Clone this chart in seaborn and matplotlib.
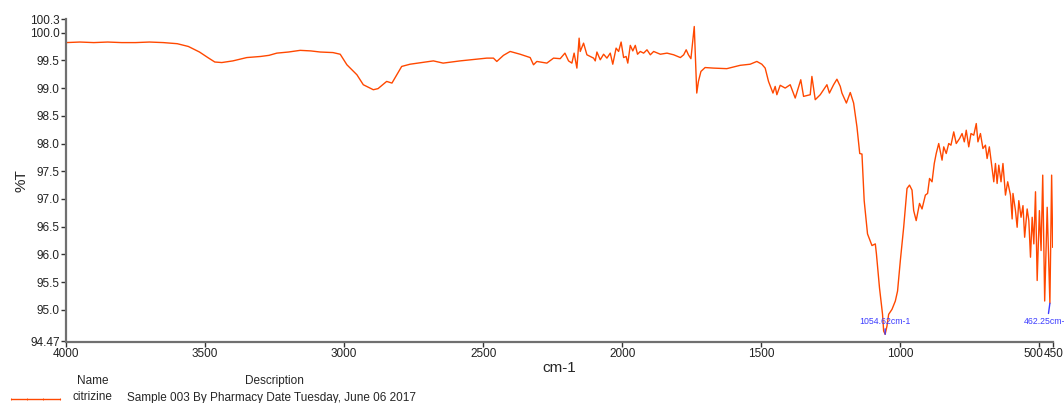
import numpy as np
import pandas as pd
import matplotlib
matplotlib.use("Agg")
import matplotlib.pyplot as plt
import matplotlib.transforms as mtransforms
from matplotlib.lines import Line2D
import seaborn as sns

# IR spectrum (wavenumber cm-1, %T)
wavenumber = [4000, 3950, 3900, 3850, 3800, 3750, 3700, 3650, 3600, 3560,
              3520, 3490, 3465, 3440, 3400, 3350, 3300, 3270, 3242, 3200,
              3158, 3120, 3086, 3040, 3014, 2990, 2954, 2931, 2895, 2878,
              2847, 2828, 2793, 2763, 2679, 2644, 2583, 2487, 2463, 2451,
              2427, 2403, 2367, 2331, 2319, 2307, 2271, 2247, 2223, 2206,
              2193, 2181, 2173, 2163, 2155, 2151, 2139, 2127, 2103, 2097,
              2091, 2079, 2067, 2055, 2043, 2034, 2022, 2013, 2004, 1995,
              1986, 1980, 1971, 1962, 1953, 1945, 1935, 1923, 1911, 1899,
              1887, 1863, 1839, 1815, 1791, 1779, 1770, 1762, 1753, 1741,
              1732, 1726, 1717, 1702, 1672, 1624, 1576, 1540, 1516, 1498,
              1486, 1474, 1458, 1450, 1444, 1432, 1414, 1396, 1378, 1358,
              1348, 1324, 1318, 1306, 1288, 1264, 1255, 1240, 1228, 1216,
              1210, 1194, 1180, 1168, 1156, 1146, 1138, 1130, 1118, 1102,
              1090, 1086, 1075, 1064, 1060, 1054.62, 1048, 1042, 1030, 1018,
              1010, 1000, 988, 976, 967, 958, 952, 943, 931, 922,
              910, 902, 895, 886, 878, 871, 862, 850, 844, 835,
              826, 818, 808, 799, 787, 778, 770, 763, 754, 746,
              736, 727, 721, 712, 703, 694, 688, 680, 673, 664,
              658, 652, 646, 638, 631, 622, 614, 604, 598, 595,
              586, 580, 574, 566, 559, 553, 544, 538, 532, 526,
              520, 514, 508, 500, 494, 488, 481, 472, 462.25, 456,
              452, 450]
transmittance = [99.82, 99.83, 99.82, 99.83, 99.82, 99.82, 99.83, 99.82, 99.80, 99.75,
                 99.65, 99.55, 99.47, 99.46, 99.49, 99.55, 99.57, 99.59, 99.63, 99.65,
                 99.68, 99.67, 99.65, 99.64, 99.61, 99.42, 99.24, 99.06, 98.97, 98.99,
                 99.12, 99.09, 99.39, 99.43, 99.49, 99.45, 99.49, 99.54, 99.54, 99.48,
                 99.59, 99.66, 99.61, 99.55, 99.42, 99.48, 99.45, 99.54, 99.53, 99.63,
                 99.49, 99.45, 99.63, 99.36, 99.90, 99.66, 99.81, 99.60, 99.54, 99.49,
                 99.65, 99.51, 99.61, 99.54, 99.63, 99.43, 99.72, 99.66, 99.83, 99.55,
                 99.57, 99.45, 99.77, 99.67, 99.77, 99.61, 99.66, 99.63, 99.69, 99.60,
                 99.66, 99.61, 99.63, 99.60, 99.55, 99.60, 99.69, 99.60, 99.53, 100.11,
                 98.91, 99.12, 99.30, 99.37, 99.36, 99.35, 99.41, 99.43, 99.48, 99.43,
                 99.36, 99.12, 98.91, 99.03, 98.88, 99.05, 99.00, 99.06, 98.82, 99.15,
                 98.85, 98.88, 99.21, 98.79, 98.88, 99.06, 98.91, 99.06, 99.16, 99.03,
                 98.91, 98.73, 98.92, 98.73, 98.30, 97.82, 97.81, 96.97, 96.37, 96.16,
                 96.19, 96.01, 95.40, 94.92, 94.62, 94.56, 94.71, 94.92, 95.01, 95.16,
                 95.34, 95.89, 96.49, 97.19, 97.25, 97.16, 96.79, 96.61, 96.92, 96.82,
                 97.07, 97.10, 97.37, 97.31, 97.64, 97.82, 98.00, 97.70, 97.94, 97.82,
                 98.00, 97.97, 98.21, 98.00, 98.09, 98.18, 98.03, 98.24, 97.94, 98.18,
                 98.15, 98.36, 98.03, 98.18, 97.91, 97.97, 97.73, 97.94, 97.67, 97.31,
                 97.64, 97.28, 97.61, 97.31, 97.64, 97.07, 97.31, 97.07, 96.64, 97.10,
                 96.79, 96.49, 96.97, 96.67, 96.88, 96.31, 96.82, 96.61, 95.95, 96.67,
                 96.19, 97.13, 95.53, 96.79, 96.07, 97.43, 95.16, 96.85, 95.12, 97.43,
                 96.13, 96.37]

peak_positions = [1054.62, 462.25]
peak_labels = ["1054.62cm-1", "462.25cm-1"]

xticks = [4000, 3500, 3000, 2500, 2000, 1500, 1000, 500, 450]
# axis ends as drawn in the picture, labelled with the instrument's end values
y_bottom, y_top = 94.43, 100.24
yticks = [y_bottom, 95.0, 95.5, 96.0, 96.5, 97.0, 97.5, 98.0, 98.5, 99.0, 99.5, 100.0, y_top]
ytick_labels = ["94.47", "95.0", "95.5", "96.0", "96.5", "97.0", "97.5", "98.0",
                "98.5", "99.0", "99.5", "100.0", "100.3"]

sample_name = "citrizine"
sample_desc = "Sample 003 By Pharmacy Date Tuesday, June 06 2017"

sns.set_style("ticks")
plt.rcParams['font.family'] = ['Liberation Sans', 'DejaVu Sans']

line_color = "#ff4800"
axis_color = "#707070"
peak_color = "#3c3cff"

df = pd.DataFrame({"wavenumber": wavenumber, "T": transmittance})

fig = plt.figure(figsize=(10.64, 4.03), dpi=100)
ax = fig.add_axes([66 / 1064, 1 - 341.5 / 403, (1053.3 - 66) / 1064, (341.5 - 19.3) / 403])

sns.lineplot(data=df, x="wavenumber", y="T", ax=ax, color=line_color,
             linewidth=1, estimator=None)

ax.set_xlim(4000, 450)
ax.set_ylim(y_bottom, y_top)
ax.set_xticks(xticks)
ax.set_xticklabels([str(t) for t in xticks])
ax.set_yticks(yticks)
ax.set_yticklabels(ytick_labels)

for s in ["top", "right"]:
    ax.spines[s].set_visible(False)
for s in ["left", "bottom"]:
    ax.spines[s].set_color(axis_color)
    ax.spines[s].set_linewidth(1.6)
ax.tick_params(axis="both", length=3.5, width=1, color="#333333",
               labelsize=8.5, labelcolor="#222222", pad=1)

# nudge "500" left so it doesn't run into "450" (after tick_params, which resets transforms)
tick500 = ax.xaxis.get_major_ticks()[7]
tick500.label1.set_transform(tick500.label1.get_transform() +
                             mtransforms.ScaledTranslation(-6 / 100, 0, fig.dpi_scale_trans))

ax.set_xlabel("cm-1", fontsize=11, labelpad=1)
ax.set_ylabel("%T", fontsize=11, labelpad=1)

# peak picks
df_idx = df.set_index("wavenumber")["T"]
offsets = [(0, 9.5), (-1.8, -13)]
for pos, lab, off in zip(peak_positions, peak_labels, offsets):
    ax.annotate(lab, xy=(pos, df_idx[pos]), xytext=off, textcoords="offset points",
                ha="center", va="center", fontsize=6.3, color=peak_color,
                arrowprops=dict(arrowstyle="-", color=peak_color, lw=1,
                                shrinkA=0, shrinkB=0))

# legend table under the plot
fig.text(93 / 1064, 1 - 381 / 403, "Name", ha="center", va="center", fontsize=8.5)
fig.text(274.5 / 1064, 1 - 381 / 403, "Description", ha="center", va="center", fontsize=8.5)
fig.text(72.7 / 1064, 1 - 397.5 / 403, sample_name, ha="left", va="center", fontsize=8.5)
fig.text(127 / 1064, 1 - 397.5 / 403, sample_desc, ha="left", va="center", fontsize=8.5)
fig.add_artist(Line2D([11 / 1064, 27 / 1064, 43 / 1064, 60 / 1064], [1 - 399 / 403] * 4,
                      transform=fig.transFigure, color=line_color, lw=1,
                      marker="|", markersize=1.5, markeredgewidth=0.6))

fig.savefig("out.png", dpi=100)
